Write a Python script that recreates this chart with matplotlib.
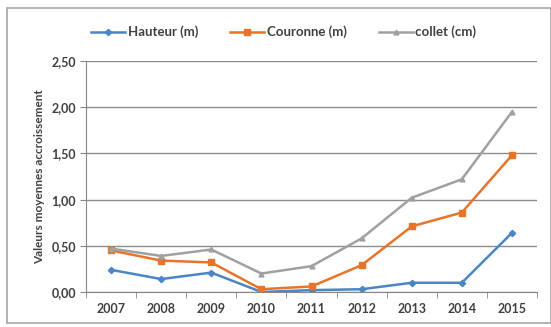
import matplotlib
matplotlib.use("Agg")
import matplotlib.pyplot as plt
from matplotlib.patches import Rectangle

plt.rcParams['font.family'] = ['Lato', 'DejaVu Sans']

years = ['2007', '2008', '2009', '2010', '2011', '2012', '2013', '2014', '2015']
hauteur = [0.24, 0.14, 0.21, 0.00, 0.02, 0.03, 0.10, 0.10, 0.64]
couronne = [0.45, 0.34, 0.32, 0.03, 0.06, 0.29, 0.71, 0.86, 1.48]
collet = [0.47, 0.39, 0.46, 0.20, 0.28, 0.58, 1.02, 1.22, 1.95]
yticks = [0.0, 0.5, 1.0, 1.5, 2.0, 2.5]

txt = '#404040'

fig = plt.figure(figsize=(5.51, 3.27), dpi=100)
fig.patch.set_facecolor('white')
# chart frame
fig.patches.append(Rectangle((7 / 551, 1 - 323 / 327), 1 - 7 / 551, (323 - 8) / 327,
                             transform=fig.transFigure, fill=False,
                             edgecolor='#a6a6a6', linewidth=1.2))

ax = fig.add_axes([86 / 551, 1 - 292 / 327, (537 - 86) / 551, (292 - 61) / 327])
x = list(range(len(years)))
ax.plot(x, hauteur, color='#4a86c5', marker='D', markersize=3.2, linewidth=1.8,
        label='Hauteur (m)')
ax.plot(x, couronne, color='#e8742a', marker='s', markersize=4.8, linewidth=1.8,
        label='Couronne (m)')
ax.plot(x, collet, color='#a0a0a0', marker='^', markersize=3.5, linewidth=1.8,
        label='collet (cm)')

ax.set_xlim(-0.5, len(years) - 0.5)
ax.set_ylim(0, 2.5)
ax.set_xticks(x)
ax.set_xticklabels(years)
ax.set_xticks([i - 0.5 for i in range(len(years) + 1)], minor=True)
ax.set_yticks(yticks)
ax.set_yticklabels([f'{v:.2f}'.replace('.', ',') for v in yticks])
ax.tick_params(axis='x', which='major', length=0, pad=8, labelsize=9, labelcolor=txt)
ax.tick_params(axis='x', which='minor', length=4, color='#868686', direction='out')
ax.tick_params(axis='y', length=4, color='#868686', labelsize=9, labelcolor=txt, pad=3)
for lab in ax.get_xticklabels() + ax.get_yticklabels():
    lab.set_fontweight('bold')

ax.grid(axis='y', color='#8c8c8c', linewidth=1)
ax.set_axisbelow(True)
for s in ['top', 'right']:
    ax.spines[s].set_visible(False)
ax.spines['left'].set_color('#868686')
ax.spines['bottom'].set_color('#868686')

ax.set_ylabel('Valeurs moyennes accroissement', fontsize=8.5, fontweight='bold',
              color=txt, labelpad=5)

leg = fig.legend(loc='center', bbox_to_anchor=(0.515, 1 - 32 / 327), ncol=3,
                 frameon=False, fontsize=9.5, handlelength=2.6, columnspacing=2.4,
                 handletextpad=0.2, labelcolor=txt)
for t in leg.get_texts():
    t.set_fontweight('bold')

fig.savefig('out.png', dpi=100)
